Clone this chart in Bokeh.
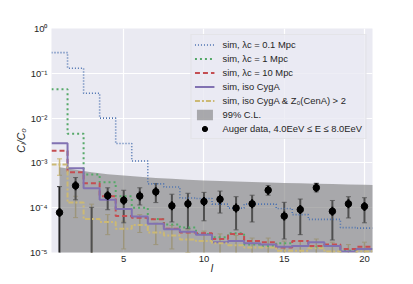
import math
from bokeh.plotting import figure
from bokeh.models import (ColumnDataSource, FixedTicker, Legend, LegendItem,
                          Whisker, TeeHead)
from bokeh.embed import file_html
from bokeh.resources import INLINE

# ---------------- data ----------------
ell = list(range(1, 21))

sim_lc01 = [0.29, 0.13, 0.036, 0.010, 2.7e-3, 1.1e-3, 3.4e-4, 2.9e-4, 1.65e-4, 1.6e-4,
            1.2e-4, 9.8e-5, 1.2e-4, 1.2e-4, 9.6e-5, 7.0e-5, 5.5e-5, 5.5e-5, 3.6e-5, 3.5e-5]
sim_lc1 = [0.044, 4.5e-3, 5.5e-4, 3.7e-4, 1.8e-4, 1.0e-4, 5.6e-5, 4.2e-5, 3.6e-5, 2.6e-5,
           2.2e-5, 2.7e-5, 1.5e-5, 1.4e-5, 1.6e-5, 1.4e-5, 1.3e-5, 1.4e-5, 1.1e-5, 1.2e-5]
sim_lc10 = [1.87e-3, 6.2e-4, 3.5e-4, 1.8e-4, 6.5e-5, 6.0e-5, 5.5e-5, 3.4e-5, 2.8e-5, 2.7e-5,
            2.0e-5, 2.6e-5, 1.8e-5, 1.7e-5, 1.3e-5, 1.8e-5, 1.4e-5, 1.5e-5, 1.2e-5, 1.35e-5]
sim_iso = [2.75e-3, 7.6e-4, 2.7e-4, 1.5e-4, 9.4e-5, 6.4e-5, 4.4e-5, 3.3e-5, 2.9e-5, 2.5e-5,
           1.7e-5, 1.8e-5, 1.6e-5, 1.5e-5, 1.35e-5, 1.4e-5, 1.7e-5, 1.4e-5, 1.05e-5, 1.2e-5]
sim_iso_z = [9.2e-4, 1.3e-4, 5.6e-5, 4.8e-5, 3.4e-5, 4.1e-5, 2.8e-5, 2.4e-5, 1.95e-5, 1.8e-5,
             1.6e-5, 1.45e-5, 1.3e-5, 1.3e-5, 1.1e-5, 1.1e-5, 1.25e-5, 1.05e-5, 9e-6, 1.05e-5]
sim_iso_z_hi = [1.23e-3, 1.8e-4, 1.2e-4, 7.0e-5, 5.0e-5, 7.0e-5, 4.5e-5, 4.0e-5, 3.2e-5, 3.0e-5,
                2.6e-5, 2.4e-5, 2.1e-5, 2.1e-5, 1.8e-5, 1.8e-5, 2.0e-5, 1.7e-5, 1.5e-5, 1.7e-5]
sim_iso_z_lo = [5.3e-4, 6.0e-5, 5.0e-6, 2.5e-5, 1.2e-5, 2.8e-5, 1.5e-5, 1.2e-5, 1.0e-5, 8.0e-6,
                7.0e-6, 6.0e-6, 5.0e-6, 5.0e-6, 4.0e-6, 4.0e-6, 5.0e-6, 4.0e-6, 3.0e-6, 4.0e-6]

band_ell = list(range(1, 22))
band_upper = [8.0e-4, 7.0e-4, 6.2e-4, 5.6e-4, 5.2e-4, 4.9e-4, 4.6e-4, 4.4e-4, 4.2e-4, 4.05e-4,
              3.95e-4, 3.85e-4, 3.75e-4, 3.65e-4, 3.58e-4, 3.5e-4, 3.43e-4, 3.37e-4, 3.3e-4,
              3.25e-4, 3.2e-4]
band_lower = [1e-7] * len(band_ell)

auger = [7.8e-5, 3.1e-4, 3e-6, 1.86e-4, 1.46e-4, 1.82e-4, 2.27e-4, 1.1e-4, 1.22e-4, 1.37e-4,
         1.54e-4, 9.8e-5, 1.22e-4, 2.46e-4, 6.5e-5, 9.1e-5, 2.8e-4, 8.3e-5, 1.22e-4, 1.07e-4]
auger_hi = [2.95e-4, 4.7e-4, 1.02e-4, 2.78e-4, 2.45e-4, 2.78e-4, 3.47e-4, 2.0e-4, 2.1e-4, 2.2e-4,
            2.35e-4, 1.76e-4, 1.9e-4, 3.1e-4, 1.32e-4, 1.56e-4, 3.5e-4, 1.45e-4, 1.76e-4, 1.67e-4]
auger_lo = [1e-7, 1.5e-4, 1e-7, 9.0e-5, 4.6e-5, 1.15e-4, 1.3e-4, 4.8e-5, 3.4e-5, 5.1e-5,
            7.6e-5, 3.2e-5, 4.8e-5, 1.9e-4, 2.0e-5, 2.5e-5, 2.26e-4, 1.9e-5, 5.9e-5, 4.6e-5]

y_ticks = [1e-5, 1e-4, 1e-3, 1e-2, 1e-1, 1.0]
y_tick_labels = ["10⁻⁵", "10⁻⁴", "10⁻³", "10⁻²", "10⁻¹", "10⁰"]
x_ticks = [5, 10, 15, 20]

FONT = "Liberation Sans"
BG = "#EAEAF2"

p = figure(width=405, height=276, y_axis_type="log",
           x_range=(0.5, 20.5), y_range=(1e-5, 1.0),
           output_backend="svg", toolbar_location=None,
           min_border_left=51, min_border_right=33,
           min_border_top=28, min_border_bottom=21)
p.background_fill_color = BG
p.border_fill_color = "white"
p.outline_line_color = None

p.xgrid.grid_line_color = "white"
p.ygrid.grid_line_color = "white"
p.xgrid.grid_line_width = 1.2
p.ygrid.grid_line_width = 1.2
p.xgrid.ticker = FixedTicker(ticks=x_ticks)
p.ygrid.ticker = FixedTicker(ticks=y_ticks)

p.xaxis.ticker = FixedTicker(ticks=x_ticks)
p.yaxis.ticker = FixedTicker(ticks=y_ticks)
p.yaxis.major_label_overrides = {t: s for t, s in zip(y_ticks, y_tick_labels)}
for ax in (p.xaxis, p.yaxis):
    ax.axis_line_color = None
    ax.major_tick_line_color = None
    ax.minor_tick_line_color = None
    ax.major_tick_out = 0
    ax.major_tick_in = 0
    ax.minor_tick_out = 0
    ax.minor_tick_in = 0
    ax.major_label_text_font = FONT
    ax.major_label_text_font_size = "9.5px"
    ax.major_label_text_color = "#262626"
    ax.axis_label_text_font = FONT
    ax.axis_label_text_font_size = "10.5px"
    ax.axis_label_text_font_style = "italic"
    ax.axis_label_text_color = "#262626"
p.xaxis.major_label_standoff = 3
p.yaxis.major_label_standoff = 4
p.xaxis.axis_label = "l"
p.xaxis.axis_label_standoff = -3
p.yaxis.axis_label = "Cₗ/C₀"
p.yaxis.axis_label_standoff = 0

# band
band = p.varea(x=band_ell, y1=band_lower, y2=band_upper,
               fill_color="#808080", fill_alpha=0.62)


def step_xy(vals):
    xs = [l - 0.5 for l in ell] + [ell[-1] + 0.5]
    ys = list(vals) + [vals[-1]]
    return xs, ys


series = [
    (sim_lc01, "#4C72B0", "1 2", 1.6, "sim, λc = 0.1 Mpc"),
    (sim_lc1, "#55A868", "2 3", 2.0, "sim, λc = 1 Mpc"),
    (sim_lc10, "#C44E52", "5 3", 2.0, "sim, λc = 10 Mpc"),
    (sim_iso, "#8172B2", "solid", 2.0, "sim, iso CygA"),
    (sim_iso_z, "#CCB974", "5 2 2 2", 2.0, "sim, iso CygA & Z₀(CenA) > 2"),
]
items = []
for vals, col, dash, lw, lab in series:
    xs, ys = step_xy(vals)
    r = p.step(xs, ys, mode="after", line_color=col, line_dash=dash, line_width=lw)
    items.append(LegendItem(label=lab, renderers=[r]))

# error bars of the last sim
zsrc = ColumnDataSource(dict(x=ell, lo=sim_iso_z_lo, hi=sim_iso_z_hi))
p.add_layout(Whisker(base="x", lower="lo", upper="hi", source=zsrc,
                     line_color="#CCB974", line_width=1.5,
                     upper_head=TeeHead(size=5, line_color="#CCB974", line_width=1),
                     lower_head=TeeHead(size=5, line_color="#CCB974", line_width=1)))

items.append(LegendItem(label="99% C.L.", renderers=[band]))

# Auger data
asrc = ColumnDataSource(dict(x=ell, y=auger, lo=auger_lo, hi=auger_hi))
p.add_layout(Whisker(base="x", lower="lo", upper="hi", source=asrc,
                     line_color="black", line_width=2,
                     upper_head=TeeHead(size=5, line_color="black", line_width=0.8),
                     lower_head=TeeHead(size=5, line_color="black", line_width=0.8)))
dash_r = p.scatter("x", "y", source=asrc, marker="dash", angle=math.pi / 2, size=9,
                   line_color="black", line_width=2)
dots = p.scatter("x", "y", source=asrc, marker="circle", size=6.5,
                 fill_color="black", line_color="black")
items.append(LegendItem(label="Auger data, 4.0EeV ≤ E ≤ 8.0EeV", renderers=[dash_r, dots]))

legend = Legend(items=items, location="top_right")
legend.margin = 6
legend.padding = 3
legend.spacing = 1
legend.label_height = 13
legend.glyph_height = 13
legend.glyph_width = 20
legend.label_standoff = 8
legend.label_text_font = FONT
legend.label_text_font_size = "9.4px"
legend.label_text_color = "#262626"
legend.background_fill_color = BG
legend.background_fill_alpha = 0.8
legend.border_line_color = "#DDDDDD"
legend.border_line_width = 1
p.add_layout(legend, "center")

open("out.html", "w").write(file_html(p, INLINE))
